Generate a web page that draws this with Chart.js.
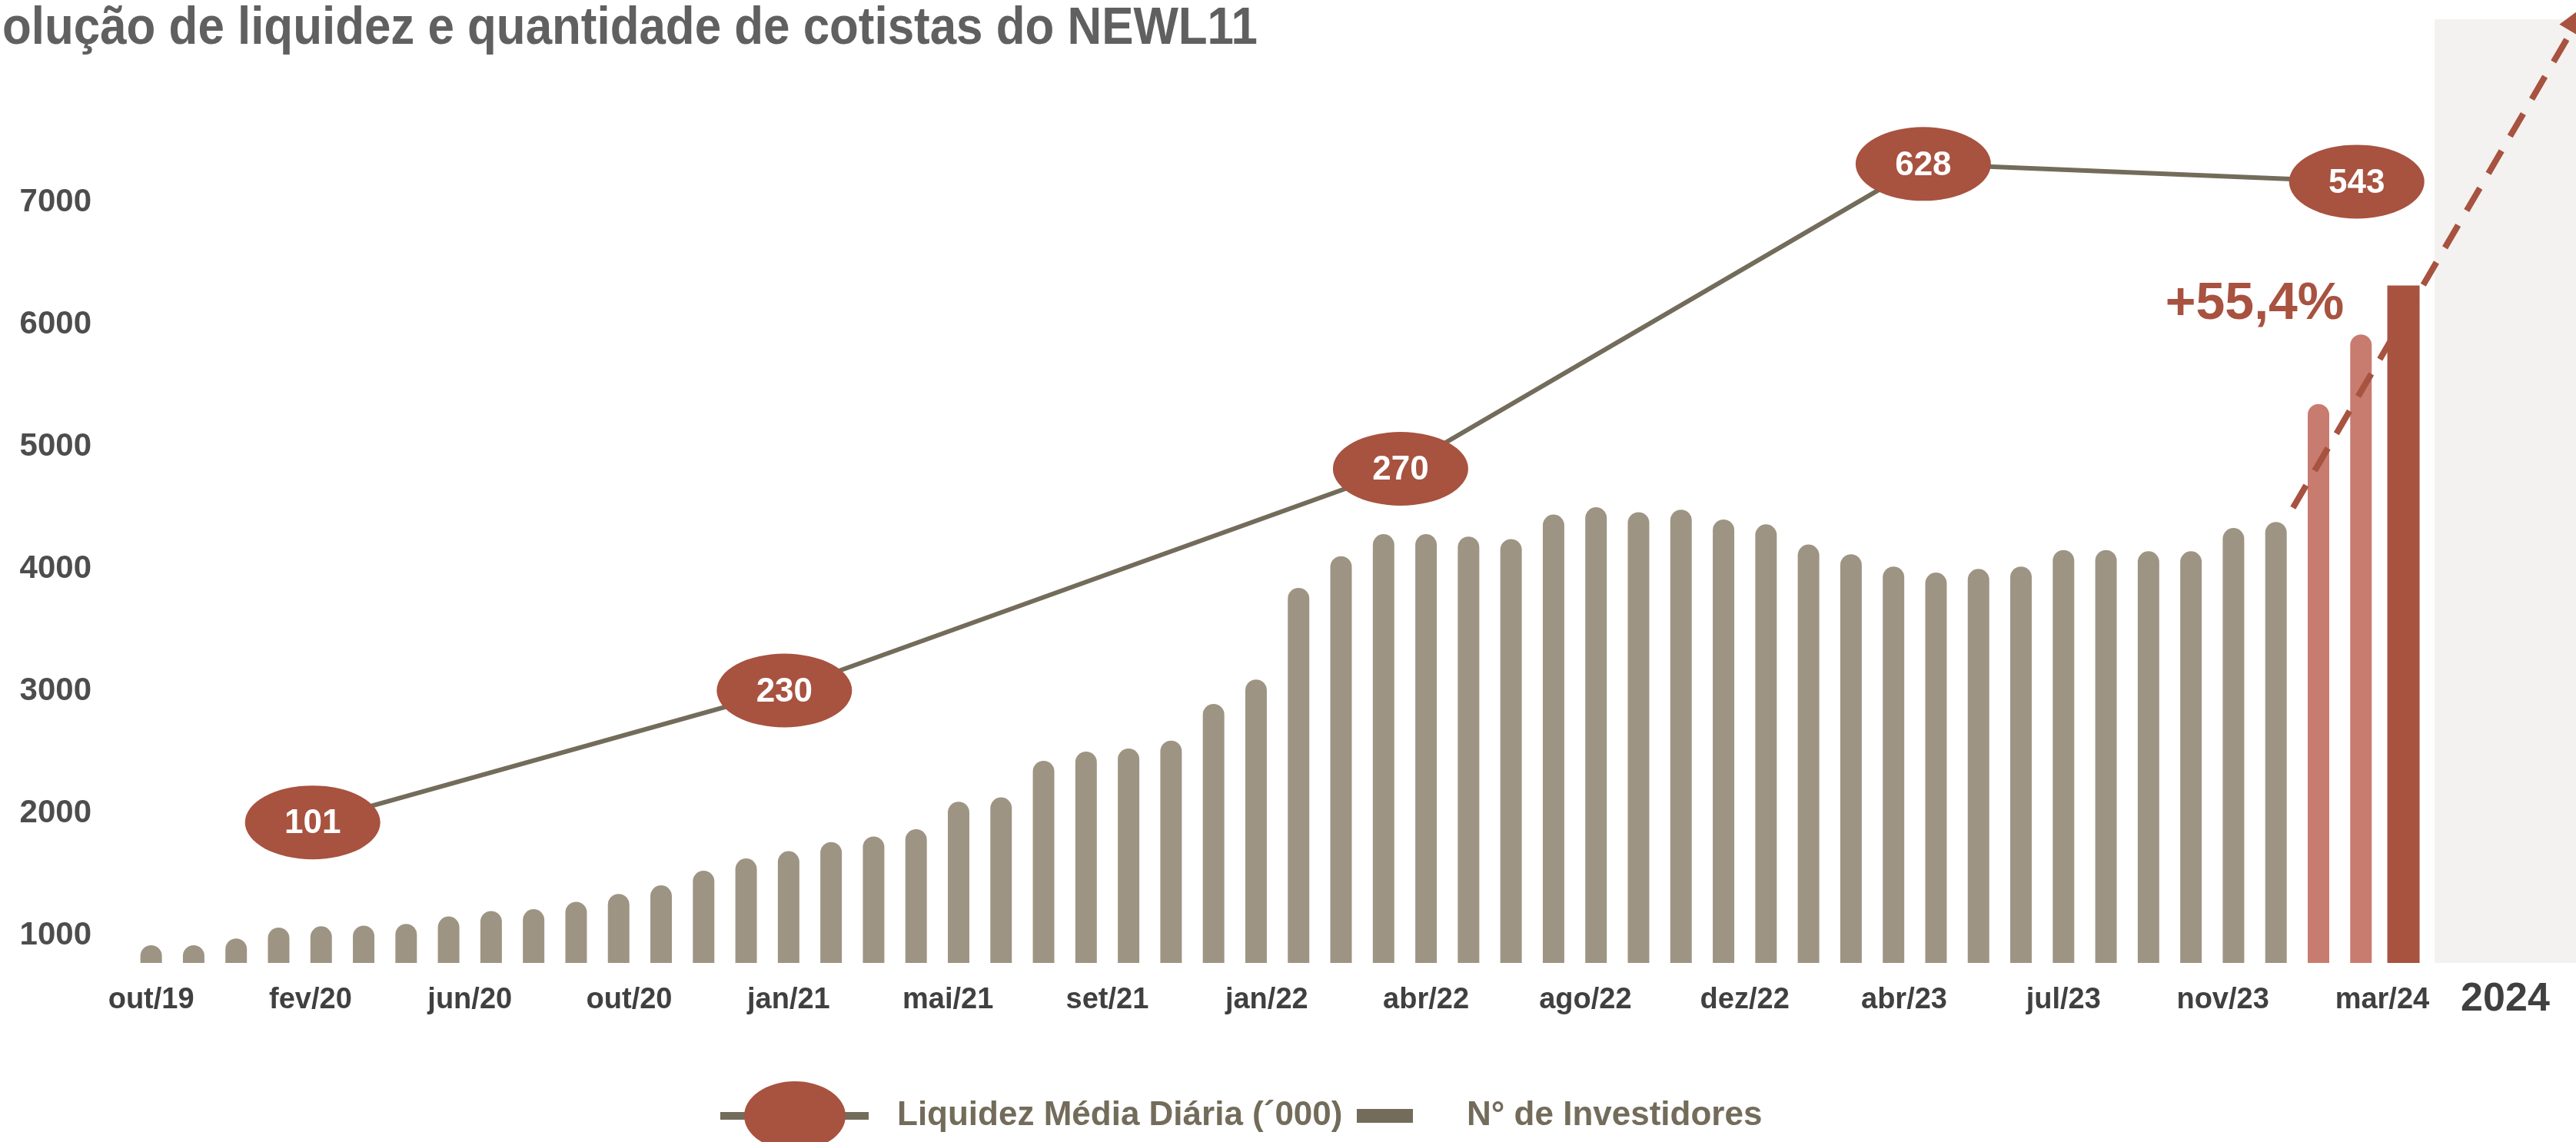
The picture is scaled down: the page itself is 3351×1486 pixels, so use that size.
<!DOCTYPE html>
<html>
<head>
<meta charset="utf-8">
<script src="https://cdn.jsdelivr.net/npm/chart.js@4.4.0/dist/chart.umd.min.js"></script>
<style>
  html, body { margin: 0; padding: 0; background: #fff; }
  #wrap { width: 3351px; height: 1486px; position: relative; }
</style>
</head>
<body>
<div id="wrap"><canvas id="myChart"></canvas></div>
<script>
const ctx = document.getElementById('myChart');

// meses de out/19 a mar/24
const meses = [
  'out/19', 'nov/19', 'dez/19',
  'jan/20', 'fev/20', 'mar/20', 'abr/20', 'mai/20', 'jun/20', 'jul/20', 'ago/20', 'set/20', 'out/20', 'nov/20', 'dez/20',
  'jan/21', 'fev/21', 'mar/21', 'abr/21', 'mai/21', 'jun/21', 'jul/21', 'ago/21', 'set/21', 'out/21', 'nov/21', 'dez/21',
  'jan/22', 'fev/22', 'mar/22', 'abr/22', 'mai/22', 'jun/22', 'jul/22', 'ago/22', 'set/22', 'out/22', 'nov/22', 'dez/22',
  'jan/23', 'fev/23', 'mar/23', 'abr/23', 'mai/23', 'jun/23', 'jul/23', 'ago/23', 'set/23', 'out/23', 'nov/23', 'dez/23',
  'jan/24', 'fev/24', 'mar/24'
];

// N° de investidores por mês
const investidores = [
  920, 920, 975,
  1065, 1075, 1080, 1095, 1155, 1200, 1215, 1275, 1340, 1410, 1530, 1630,
  1690, 1765, 1810, 1870, 2095, 2130, 2430, 2505, 2530, 2595, 2895, 3095,
  3845, 4105, 4285, 4285, 4265, 4245, 4445, 4505, 4465, 4485, 4405, 4365,
  4200, 4120, 4020, 3970, 4000, 4020, 4155, 4155, 4145, 4145, 4335, 4385,
  5350, 5920, 6320
];

// rótulos do eixo x (espaçados de forma regular no original)
const tickLabels = ['out/19', 'fev/20', 'jun/20', 'out/20', 'jan/21', 'mai/21', 'set/21', 'jan/22',
  'abr/22', 'ago/22', 'dez/22', 'abr/23', 'jul/23', 'nov/23', 'mar/24'];
const yTicks = [1000, 2000, 3000, 4000, 5000, 6000, 7000];
const anoDestaque = '2024';

// liquidez média diária ('000) - valores e onde aparecem no gráfico
const liquidez = [101, 230, 270, 628, 543];
const liquidezMes = [3.8, 14.9, 29.4, 41.7, 51.9];
const liquidezNivel = [1925, 3005, 4820, 7315, 7170];

// seta tracejada de tendência e destaque
const tendencia = [{ x: 50.4, y: 4500 }, { x: 56.95, y: 8400 }];
const crescimento = '+55,4%';
const crescimentoPos = { x: 49.5, y: 6045 };

const CINZA = '#9e9483';
const ROSA = '#c87b6f';
const TERRA = '#a85240';
const OLIVA = '#736c5b';
const FONTE = "'Liberation Sans', Arial, sans-serif";
const painelInicio = 53.73;
const tickStep = 3.75;

const ultimo = investidores.length - 1;
const barrasMes = investidores.slice(0, ultimo).map((v, i) => ({ x: i, y: v }));
const barrasCor = barrasMes.map(p => meses[p.x].endsWith('/24') ? ROSA : CINZA);

const desenhos = {
  id: 'desenhos',
  beforeDatasetsDraw(chart) {
    const { ctx, chartArea: a, scales: { x } } = chart;
    const x0 = x.getPixelForValue(painelInicio);
    ctx.save();
    ctx.fillStyle = '#f3f2f0';
    ctx.fillRect(x0, a.top, a.right - x0, a.bottom - a.top);
    ctx.restore();
  },
  afterDatasetsDraw(chart) {
    const { ctx, scales: { x, y } } = chart;
    ctx.save();
    // ponta da seta
    const pts = chart.getDatasetMeta(1).data;
    const p0 = pts[0], p1 = pts[1];
    const ang = Math.atan2(p1.y - p0.y, p1.x - p0.x);
    ctx.fillStyle = TERRA;
    ctx.beginPath();
    ctx.moveTo(p1.x + Math.cos(ang) * 42, p1.y + Math.sin(ang) * 42);
    ctx.lineTo(p1.x + Math.cos(ang + Math.PI / 2) * 18, p1.y + Math.sin(ang + Math.PI / 2) * 18);
    ctx.lineTo(p1.x + Math.cos(ang - Math.PI / 2) * 18, p1.y + Math.sin(ang - Math.PI / 2) * 18);
    ctx.closePath();
    ctx.fill();

    // elipses com a liquidez
    const meta = chart.getDatasetMeta(0);
    meta.data.forEach((pt, i) => {
      ctx.fillStyle = TERRA;
      ctx.beginPath();
      ctx.ellipse(pt.x, pt.y, 88, 48, 0, 0, Math.PI * 2);
      ctx.fill();
      ctx.fillStyle = '#ffffff';
      ctx.font = 'bold 44px ' + FONTE;
      ctx.textAlign = 'center';
      ctx.textBaseline = 'middle';
      ctx.fillText(String(liquidez[i]), pt.x, pt.y + 2);
    });

    // +55,4%
    ctx.fillStyle = TERRA;
    ctx.font = 'bold 68px ' + FONTE;
    ctx.textAlign = 'center';
    ctx.textBaseline = 'alphabetic';
    ctx.fillText(crescimento, x.getPixelForValue(crescimentoPos.x), y.getPixelForValue(crescimentoPos.y));
    ctx.restore();
  },
  afterDraw(chart) {
    const { ctx, chartArea: a, scales: { x } } = chart;
    ctx.save();
    // título (cortado à esquerda como no original)
    const titulo = 'olução de liquidez e quantidade de cotistas do NEWL11';
    ctx.font = 'bold 68px ' + FONTE;
    ctx.fillStyle = '#606060';
    ctx.textAlign = 'left';
    ctx.textBaseline = 'alphabetic';
    const w = ctx.measureText(titulo).width;
    ctx.translate(3, 57);
    ctx.scale(1633 / w, 1);
    ctx.fillText(titulo, 0, 0);
    ctx.setTransform(1, 0, 0, 1, 0, 0);

    // 2024 no painel
    const xc = (x.getPixelForValue(painelInicio) + a.right) / 2;
    ctx.font = 'bold 52px ' + FONTE;
    ctx.fillStyle = '#404040';
    ctx.textAlign = 'center';
    ctx.fillText(anoDestaque, xc, 1315);

    // legenda
    const ly = 1452;
    ctx.fillStyle = OLIVA;
    ctx.fillRect(937, ly - 5, 193, 10);
    ctx.fillStyle = TERRA;
    ctx.beginPath();
    ctx.ellipse(1034, ly, 66, 45, 0, 0, Math.PI * 2);
    ctx.fill();
    ctx.font = 'bold 44px ' + FONTE;
    ctx.fillStyle = OLIVA;
    ctx.textAlign = 'left';
    ctx.textBaseline = 'middle';
    ctx.fillText(chart.data.datasets[0].label, 1167, ly);
    ctx.fillRect(1765, ly - 9, 73, 18);
    ctx.fillText(chart.data.datasets[2].label, 1908, ly);
    ctx.restore();
  }
};

new Chart(ctx, {
  type: 'bar',
  data: {
    datasets: [
      {
        type: 'line',
        label: 'Liquidez Média Diária (´000)',
        data: liquidezMes.map((m, i) => ({ x: m, y: liquidezNivel[i] })),
        borderColor: OLIVA,
        borderWidth: 6,
        pointRadius: 0,
        tension: 0,
        order: 0
      },
      {
        type: 'line',
        label: 'tendência',
        data: tendencia,
        borderColor: TERRA,
        borderWidth: 8,
        borderDash: [34, 22],
        pointRadius: 0,
        clip: false,
        order: 1
      },
      {
        type: 'bar',
        label: 'N° de Investidores',
        data: barrasMes,
        backgroundColor: barrasCor,
        borderRadius: 14,
        barPercentage: 0.506,
        categoryPercentage: 1,
        grouped: false,
        order: 2
      },
      {
        type: 'bar',
        label: 'N° de Investidores mar/24',
        data: [{ x: ultimo, y: investidores[ultimo] }],
        backgroundColor: TERRA,
        barPercentage: 0.76,
        categoryPercentage: 1,
        grouped: false,
        order: 3
      }
    ]
  },
  options: {
    responsive: true,
    maintainAspectRatio: false,
    animation: false,
    layout: { padding: { top: 25, right: 0, bottom: 0, left: 0 } },
    plugins: {
      legend: { display: false },
      tooltip: { enabled: false }
    },
    scales: {
      x: {
        type: 'linear',
        min: -0.5,
        max: 57.06,
        offset: false,
        grid: { display: false, drawTicks: false },
        border: { display: false },
        afterBuildTicks(scale) {
          scale.ticks = tickLabels.map((l, k) => ({ value: k * tickStep }));
        },
        afterFit(scale) {
          scale.height = 233;
          scale.paddingLeft = 0;
          scale.paddingRight = 0;
        },
        ticks: {
          autoSkip: false,
          maxRotation: 0,
          padding: 26,
          color: '#404040',
          font: { family: FONTE, size: 38, weight: 'bold' },
          callback: (v, i) => tickLabels[i]
        }
      },
      y: {
        min: 775,
        max: 8500,
        grid: { display: false, drawTicks: false },
        border: { display: false },
        afterBuildTicks(scale) {
          scale.ticks = yTicks.map(v => ({ value: v }));
        },
        afterFit(scale) {
          scale.width = 169;
          scale.paddingTop = 0;
          scale.paddingBottom = 0;
        },
        ticks: {
          padding: 50,
          color: '#4d4d4d',
          font: { family: FONTE, size: 42, weight: 'bold' },
          callback: v => String(v)
        }
      }
    }
  },
  plugins: [desenhos]
});
</script>
</body>
</html>
